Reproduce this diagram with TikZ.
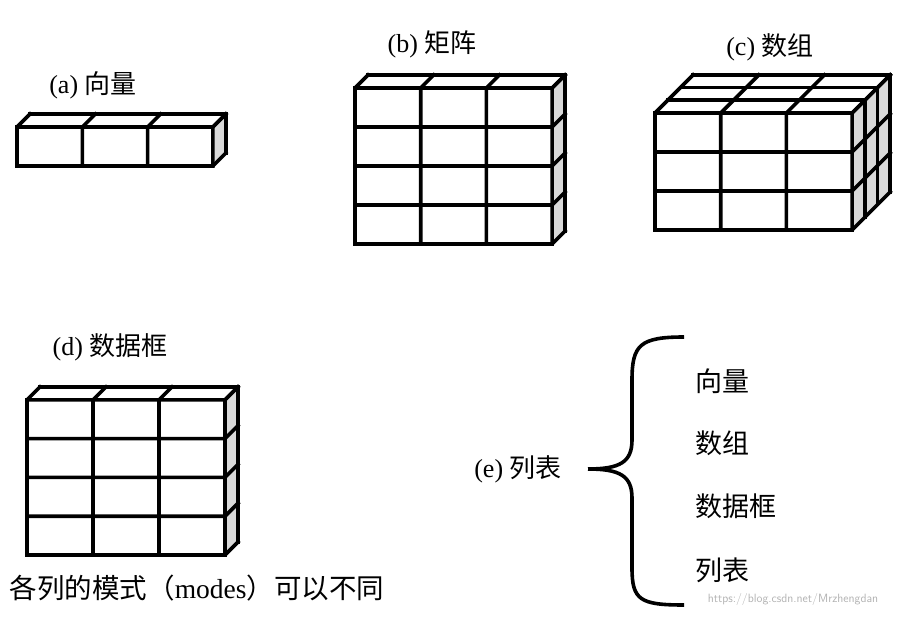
\documentclass[tikz,border=0pt]{standalone}
\usepackage{fontspec}
\setmainfont{Liberation Serif}
\newfontfamily\cjk{Noto Sans CJK SC}
\newcommand{\cubegrid}[8]{% x0 y0(bottom) nx ny nz w h d
  \pgfmathsetmacro\xa{#1}\pgfmathsetmacro\yb{#2}
  \pgfmathsetmacro\xe{#1+#3*#6}\pgfmathsetmacro\yt{#2-#4*#7}
  \pgfmathsetmacro\D{#5*#8}
  \fill[gray!30] (\xe,\yb) -- (\xe+\D,\yb-\D) -- (\xe+\D,\yt-\D) -- (\xe,\yt) -- cycle;
  \foreach \i in {0,...,#3}{\draw[cl] (\xa+\i*#6,\yb) -- (\xa+\i*#6,\yt) -- ++(\D,-\D);}
  \foreach \j in {0,...,#4}{\draw[cl] (\xa,\yb-\j*#7) -- (\xe,\yb-\j*#7) -- ++(\D,-\D);}
  \foreach \k in {1,...,#5}{\draw[cl] (\xa+\k*#8,\yt-\k*#8) -- (\xe+\k*#8,\yt-\k*#8) -- (\xe+\k*#8,\yb-\k*#8);}
}
\begin{document}
\begin{tikzpicture}[x=1pt,y=-1pt,
  cl/.style={line width=3.6pt,line join=miter,line cap=rect},
  lab/.style={font=\fontsize{26}{30}\selectfont},
  item/.style={font=\cjk\fontsize{27}{31}\selectfont,anchor=west}]
\useasboundingbox (0,0) rectangle (918,617);
\cubegrid{17}{166}{3}{1}{1}{65.3}{39}{13}
\cubegrid{355}{244}{3}{4}{1}{65.7}{39}{13}
\cubegrid{655}{230}{3}{3}{3}{65.7}{39}{12.7}
\cubegrid{27}{555}{3}{4}{1}{66}{38.8}{13}
\node[lab] (la) at (93,85) {(a) {\cjk 向量}};
\node[lab] (lb) at (432,44) {(b) {\cjk 矩阵}};
\node[lab] (lc) at (770,47) {(c) {\cjk 数组}};
\node[lab] (ld) at (110,347) {(d) {\cjk 数据框}};
\node[font=\fontsize{27.5}{31}\selectfont] (cap) at (197,588) {{\cjk 各列的模式（}modes{\cjk ）可以不同}};
\node[lab] (le) at (518,469) {(e) {\cjk 列表}};
\coordinate (tip) at (588,469);
\draw[line width=3.6pt] (684,337) .. controls (640,337) and (632,345) .. (632,380)
  -- (632,440) .. controls (632,462) and (620,469) .. (tip)
  (tip) .. controls (620,469) and (632,476) .. (632,498)
  -- (632,568) .. controls (632,600) and (640,605) .. (684,605);
\node[item] (i1) at (692,381) {向量};
\node[item] (i2) at (692,443) {数组};
\node[item] (i3) at (692,506) {数据框};
\node[item] (i4) at (692,570) {列表};
\node[font=\fontsize{12}{14}\selectfont\sffamily,text=gray!60] (wm) at (793,599) {https://blog.csdn.net/Mrzhengdan};
\end{tikzpicture}
\end{document}
